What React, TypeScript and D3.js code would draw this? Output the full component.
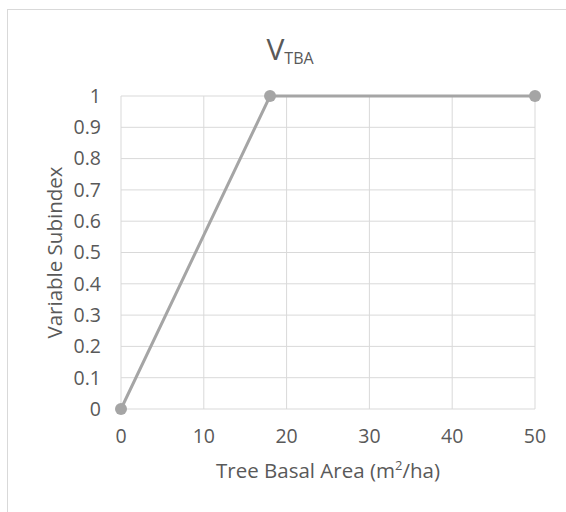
import { useMemo } from 'react';
import * as d3 from 'd3';

const basalArea = [0, 18, 50];
const subindex = [0, 1, 1];
const xTicks = [0, 10, 20, 30, 40, 50];
const yTicks = [0, 0.1, 0.2, 0.3, 0.4, 0.5, 0.6, 0.7, 0.8, 0.9, 1];

const W = 566;
const H = 512;
const margin = { top: 96, right: 31, bottom: 103, left: 121 };
const font = '"Open Sans", "DejaVu Sans", sans-serif';
const ink = '#595959';
const grid = '#D9D9D9';
const lineColor = '#A5A5A5';

export default function App() {
  const { x, y, path } = useMemo(() => {
    const x = d3
      .scaleLinear()
      .domain([0, 50])
      .range([margin.left, W - margin.right]);
    const y = d3
      .scaleLinear()
      .domain([0, 1])
      .range([H - margin.bottom, margin.top]);
    const pts = basalArea.map((b, i) => [b, subindex[i]] as [number, number]);
    const path =
      d3
        .line<[number, number]>()
        .x((d) => x(d[0]))
        .y((d) => y(d[1]))(pts) ?? '';
    return { x, y, path };
  }, []);

  const [x0, x1] = x.range();
  const [y0, y1] = y.range();

  return (
    <svg
      width={W}
      height={H}
      style={{ position: 'absolute', left: 0, top: 0, background: '#fff' }}
      fontFamily={font}
    >
      <rect x={7.5} y={9.5} width={600} height={520} fill="#fff" stroke={grid} strokeWidth={1} />

      <text x={290} y={60} textAnchor="middle" fill={ink}>
        <tspan fontSize={30}>V</tspan>
        <tspan fontSize={16} dy={4}>TBA</tspan>
      </text>

      {xTicks.map((t) => (
        <line key={'gx' + t} x1={x(t)} x2={x(t)} y1={y0} y2={y1} stroke={grid} strokeWidth={1} />
      ))}
      {yTicks.map((t) => (
        <line key={'gy' + t} x1={x0} x2={x1} y1={y(t)} y2={y(t)} stroke={grid} strokeWidth={1} />
      ))}

      {yTicks.map((t) => (
        <text key={'ly' + t} x={101} y={y(t)} dy="0.35em" textAnchor="end" fontSize={19.5} fill={ink}>
          {d3.format('~g')(t)}
        </text>
      ))}
      {xTicks.map((t) => (
        <text key={'lx' + t} x={x(t)} y={443} textAnchor="middle" fontSize={19.5} fill={ink}>
          {t}
        </text>
      ))}

      <text
        transform={`translate(62,${(y0 + y1) / 2}) rotate(-90)`}
        textAnchor="middle"
        fontSize={20.5}
        fill={ink}
      >
        Variable Subindex
      </text>
      <text x={(x0 + x1) / 2} y={478} textAnchor="middle" fontSize={20.5} fill={ink}>
        Tree Basal Area (m
        <tspan fontSize={13} dy={-8}>2</tspan>
        <tspan dy={8}>/ha)</tspan>
      </text>

      <path d={path} fill="none" stroke={lineColor} strokeWidth={3} />
      {basalArea.map((b, i) => (
        <circle key={'p' + i} cx={x(b)} cy={y(subindex[i])} r={6} fill={lineColor} />
      ))}
    </svg>
  );
}
